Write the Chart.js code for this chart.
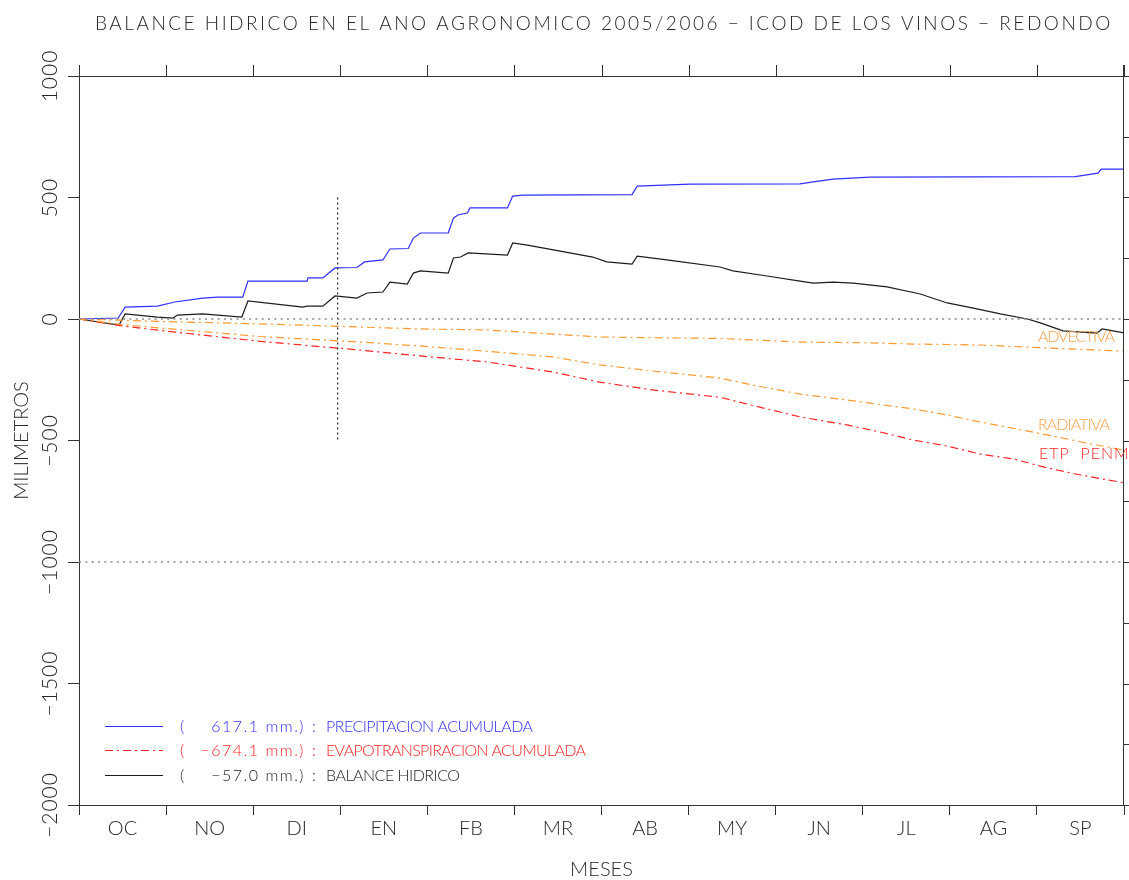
<!DOCTYPE html>
<html>
<head>
<meta charset="utf-8">
<title>Balance hidrico 2005/2006 - Icod de los Vinos</title>
<script src="https://cdn.jsdelivr.net/npm/chart.js@4.4.1/dist/chart.umd.min.js"></script>
<style>
    html, body { margin: 0; padding: 0; background: #fff; }
    #wrap { width: 1129px; height: 880px; position: relative; }
</style>
</head>
<body>
<div id="wrap"><canvas id="balanceChart"></canvas></div>
<script>
// Month labels (agronomic year, October -> September)
const MESES = ['OC', 'NO', 'DI', 'EN', 'FB', 'MR', 'AB', 'MY', 'JN', 'JL', 'AG', 'SP'];

// Cumulative precipitation (x in months since 1 Oct, y in mm)
const PRECIP_MES = [0, 0.45, 0.53, 0.90, 1.10, 1.42, 1.59, 1.88, 1.94, 2.62,
    2.63, 2.80, 2.94, 3.19, 3.28, 3.49, 3.57, 3.78, 3.84, 3.92,
    4.24, 4.30, 4.35, 4.46, 4.49, 4.92, 4.98, 5.10, 6.35, 6.41,
    7.02, 8.28, 8.43, 8.66, 9.08, 11.44, 11.70, 11.74, 12];
const PRECIP_MM = [0, 4, 49, 53, 70, 86, 90, 90, 156, 156,
    169, 169, 210, 212, 235, 243, 288, 290, 333, 354,
    354, 415, 428, 436, 457, 457, 506, 510, 512, 547,
    555, 556, 564, 576, 584, 586, 600, 617, 617.1];

// Water balance
const BALANCE_MES = [0, 0.46, 0.53, 0.90, 1.08, 1.13, 1.42, 1.87, 1.94, 2.57,
    2.62, 2.80, 2.94, 3.19, 3.31, 3.49, 3.57, 3.77, 3.84, 3.92,
    4.24, 4.30, 4.38, 4.47, 4.92, 4.98, 5.15, 5.90, 6.06, 6.35,
    6.41, 6.75, 7.36, 7.51, 7.90, 8.28, 8.43, 8.66, 8.89, 9.28,
    9.66, 9.97, 10.27, 10.58, 10.89, 11.04, 11.30, 11.69, 11.75, 12];
const BALANCE_MM = [0, -25, 21, 8, 4, 16, 21, 8, 74, 49,
    53, 53, 95, 86, 107, 111, 152, 144, 189, 198,
    189, 251, 255, 272, 263, 313, 304, 255, 235, 226,
    259, 243, 214, 198, 177, 156, 148, 152, 148, 132,
    103, 66, 45, 21, 0, -16, -49, -58, -41, -57];

// Evapotranspiration (Penman total and its radiative / advective parts)
const ETP_MES = [0, 0.47, 0.93, 2.08, 3.23, 3.92, 4.69, 5.44, 5.98, 6.59,
    7.36, 7.74, 8.28, 8.82, 9.20, 9.58, 9.97, 10.35, 10.73, 11.12, 11.50, 12];
const ETP_MM = [0, -27, -47, -92, -128, -152, -177, -218, -260, -292,
    -322, -356, -403, -436, -465, -498, -523, -556, -576, -613, -642, -674.1];
const RADIATIVA_MM = [0, -22, -37, -72, -95, -111, -133, -156, -189, -214,
    -243, -272, -309, -333, -352, -370, -395, -424, -450, -477, -505, -540];
const ADVECTIVA_MM = [0, -5, -10, -20, -33, -41, -45, -62, -74, -77,
    -80, -86, -95, -97, -99, -103, -105, -107, -113, -119, -125, -132];

// Reference lines
const REF_LEVELS = [0, -1000];
const MARK_MES = 2.97;
const MARK_RANGE = [500, -500];

// Legend totals
const TOTALES = ['617.1', '\u2212674.1', '\u221257.0'];
const LEYENDA = ['PRECIPITACION ACUMULADA', 'EVAPOTRANSPIRACION ACUMULADA', 'BALANCE HIDRICO'];

const COLORS = {
    blue: '#2f2fff',
    red: '#ff2424',
    orange: '#ff9a30',
    orangeText: '#f5a24c',
    black: '#1c1c1c',
    text: '#262626',
    ref: '#8a8a8a'
};

const DASHDOT = [8, 4, 2, 4];
const FONT = 'Lato, "DejaVu Sans", sans-serif';

function toPoints(xs, ys) {
    return xs.map((x, i) => ({ x: x, y: ys[i] }));
}

function lineDataset(label, xs, ys, color, dash) {
    return {
        label: label,
        data: toPoints(xs, ys),
        borderColor: color,
        backgroundColor: color,
        borderWidth: 1.2,
        borderDash: dash || [],
        pointRadius: 0,
        tension: 0,
        fill: false
    };
}

/**
 * Draw text stretched by letter spacing so it covers a given width
 */
function drawSpaced(ctx, text, x, y, width) {
    ctx.letterSpacing = '0px';
    const w = ctx.measureText(text).width;
    const sp = text.length > 1 ? (width - w) / (text.length - 1) : 0;
    ctx.letterSpacing = sp.toFixed(2) + 'px';
    ctx.textAlign = 'left';
    ctx.fillText(text, x, y);
    ctx.letterSpacing = '0px';
}

// Frame ticks, rotated y labels, title, legend and curve labels
const decorPlugin = {
    id: 'decor',
    afterDraw(chart) {
        const ctx = chart.ctx;
        const a = chart.chartArea;
        const xs = chart.scales.x;
        const ys = chart.scales.y;
        ctx.save();

        // top and right frame with tick marks
        ctx.strokeStyle = '#333';
        ctx.lineWidth = 1;
        ctx.setLineDash([]);
        ctx.beginPath();
        ctx.moveTo(a.left - 11, a.top + 0.5);
        ctx.lineTo(a.right, a.top + 0.5);
        ctx.moveTo(a.right - 0.5, a.top - 11);
        ctx.lineTo(a.right - 0.5, a.bottom);
        for (let m = 0; m <= 12; m++) {
            const px = Math.round(xs.getPixelForValue(m)) + 0.5;
            ctx.moveTo(px, a.top);
            ctx.lineTo(px, a.top - 11);
        }
        for (let v = -2000; v <= 1000; v += 250) {
            const py = Math.round(ys.getPixelForValue(v)) + 0.5;
            ctx.moveTo(a.right, py);
            ctx.lineTo(a.right + 8, py);
        }
        ctx.stroke();

        // rotated y tick labels
        ctx.fillStyle = COLORS.text;
        ctx.font = '300 21px ' + FONT;
        ctx.textAlign = 'center';
        ctx.textBaseline = 'middle';
        for (let v = -2000; v <= 1000; v += 500) {
            const py = ys.getPixelForValue(v);
            const txt = v < 0 ? '\u2212' + Math.abs(v) : String(v);
            ctx.save();
            ctx.translate(50, py);
            ctx.rotate(-Math.PI / 2);
            ctx.letterSpacing = '1px';
            ctx.fillText(txt, 0, 0);
            ctx.restore();
        }

        // title
        ctx.textBaseline = 'alphabetic';
        ctx.font = '300 19px ' + FONT;
        drawSpaced(ctx, 'BALANCE HIDRICO EN EL ANO AGRONOMICO 2005/2006 \u2212 ICOD DE LOS VINOS \u2212 REDONDO', 95, 30, 1015);

        // legend
        const rows = [
            { y: 726, color: COLORS.blue, dash: [], width: 207 },
            { y: 750, color: COLORS.red, dash: DASHDOT, width: 260 },
            { y: 775, color: COLORS.black, dash: [], width: 134 }
        ];
        ctx.font = '300 16px ' + FONT;
        rows.forEach((r, i) => {
            ctx.strokeStyle = r.color;
            ctx.lineWidth = 1.2;
            ctx.setLineDash(r.dash);
            ctx.beginPath();
            ctx.moveTo(105, r.y + 0.5);
            ctx.lineTo(163, r.y + 0.5);
            ctx.stroke();
            ctx.setLineDash([]);
            ctx.fillStyle = r.color;
            const base = r.y + 6;
            ctx.textAlign = 'left';
            ctx.fillText('(', 180, base);
            ctx.textAlign = 'right';
            ctx.letterSpacing = '1.5px';
            ctx.fillText(TOTALES[i] + ' mm.)', 305, base);
            ctx.letterSpacing = '0px';
            ctx.textAlign = 'left';
            ctx.fillText(':', 312, base);
            drawSpaced(ctx, LEYENDA[i], 326, base, r.width);
        });

        // curve labels on the right
        ctx.font = '300 16px ' + FONT;
        ctx.fillStyle = COLORS.orangeText;
        drawSpaced(ctx, 'ADVECTIVA', 1038, 342, 77);
        drawSpaced(ctx, 'RADIATIVA', 1038, 430, 72);
        ctx.fillStyle = COLORS.red;
        ctx.letterSpacing = '1px';
        ctx.textAlign = 'left';
        ctx.fillText('ETP  PENMAN', 1039, 459);

        ctx.restore();
    }
};

function initChart() {
    const ctx = document.getElementById('balanceChart');

    const datasets = [];
    REF_LEVELS.forEach(level => {
        const d = lineDataset('ref ' + level, [0, 12], [level, level], COLORS.ref, [2, 4.3]);
        d.borderWidth = 1.4;
        datasets.push(d);
    });
    const mark = lineDataset('mark', [MARK_MES, MARK_MES], MARK_RANGE, '#222', [2, 3]);
    datasets.push(mark);
    datasets.push(lineDataset('ADVECTIVA', ETP_MES, ADVECTIVA_MM, COLORS.orange, DASHDOT));
    datasets.push(lineDataset('RADIATIVA', ETP_MES, RADIATIVA_MM, COLORS.orange, DASHDOT));
    datasets.push(lineDataset('EVAPOTRANSPIRACION ACUMULADA', ETP_MES, ETP_MM, COLORS.red, DASHDOT));
    datasets.push(lineDataset('PRECIPITACION ACUMULADA', PRECIP_MES, PRECIP_MM, COLORS.blue));
    datasets.push(lineDataset('BALANCE HIDRICO', BALANCE_MES, BALANCE_MM, COLORS.black));

    return new Chart(ctx, {
        type: 'line',
        data: { datasets: datasets },
        options: {
            responsive: true,
            maintainAspectRatio: false,
            animation: false,
            layout: { padding: { top: 76, right: 5, left: 0, bottom: 0 } },
            plugins: {
                legend: { display: false },
                tooltip: { enabled: false },
                title: { display: false }
            },
            scales: {
                x: {
                    type: 'linear',
                    position: 'bottom',
                    min: 0,
                    max: 12,
                    afterFit: function(scale) { scale.height = 75; },
                    ticks: {
                        stepSize: 0.5,
                        autoSkip: false,
                        maxRotation: 0,
                        padding: 2,
                        color: COLORS.text,
                        font: { family: FONT, size: 20, weight: '300' },
                        callback: function(v) {
                            const i = v - 0.5;
                            return Number.isInteger(i) ? MESES[i] : '';
                        }
                    },
                    grid: {
                        drawOnChartArea: false,
                        tickLength: 10,
                        color: function(c) {
                            return (c.tick && Number.isInteger(c.tick.value)) ? '#333' : 'rgba(0,0,0,0)';
                        }
                    },
                    border: { display: true, color: '#333', width: 1 },
                    title: {
                        display: true,
                        text: 'MESES',
                        color: COLORS.text,
                        font: { family: FONT, size: 20, weight: '300', lineHeight: 1 },
                        padding: { top: 0, bottom: 0 }
                    }
                },
                y: {
                    type: 'linear',
                    position: 'left',
                    min: -2000,
                    max: 1000,
                    afterFit: function(scale) { scale.width = 79; },
                    ticks: { stepSize: 500, display: false },
                    grid: {
                        drawOnChartArea: false,
                        tickLength: 11,
                        color: '#333'
                    },
                    border: { display: true, color: '#333', width: 1 },
                    title: {
                        display: true,
                        text: 'MILIMETROS',
                        color: COLORS.text,
                        font: { family: FONT, size: 20, weight: '300', lineHeight: 1 },
                        padding: { top: 12, bottom: 0 }
                    }
                }
            }
        },
        plugins: [decorPlugin]
    });
}

initChart();
</script>
</body>
</html>
